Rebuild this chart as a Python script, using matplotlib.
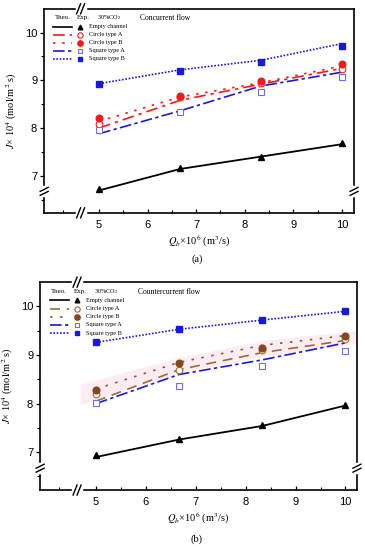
import numpy as np
import matplotlib
matplotlib.use("Agg")
import matplotlib.pyplot as plt

plt.rcParams["mathtext.fontset"] = "stix"

# flow rate Q_b x 10^6 (m^3/s)
q = [5, 6.667, 8.333, 10]

# (a) concurrent flow: experimental points
a_exp_empty = [6.71, 7.17, 7.40, 7.68]
a_exp_circA = [8.08, 8.64, 8.94, 9.24]
a_exp_circB = [8.21, 8.67, 8.98, 9.35]
a_exp_sqA = [7.95, 8.33, 8.75, 9.06]
a_exp_sqB = [8.93, 9.20, 9.38, 9.72]
# (a) theory
a_th_empty = [6.69, 7.14, 7.40, 7.66]
a_th_circA = [8.00, 8.58, 8.92, 9.25]
a_th_circB = [8.14, 8.65, 8.95, 9.30]
a_th_sqA = [7.88, 8.36, 8.88, 9.17]
a_th_sqB = [8.93, 9.22, 9.42, 9.77]

# (b) countercurrent flow: experimental points
b_exp_empty = [6.95, 7.28, 7.56, 7.98]
b_exp_circA = [8.20, 8.70, 9.10, 9.33]
b_exp_circB = [8.27, 8.83, 9.15, 9.39]
b_exp_sqA = [8.01, 8.37, 8.78, 9.08]
b_exp_sqB = [9.26, 9.53, 9.72, 9.90]
# (b) theory
b_th_empty = [6.90, 7.26, 7.54, 7.96]
b_th_circA = [8.05, 8.70, 9.05, 9.30]
b_th_circB = [8.30, 8.85, 9.20, 9.40]
b_th_sqA = [8.00, 8.60, 8.90, 9.25]
b_th_sqB = [9.26, 9.53, 9.72, 9.90]

names = ["Empty channel", "Circle type A", "Circle type B", "Square type A", "Square type B"]

RED, BLUE, BROWN, LBLUE = "#ee1c1c", "#1a1ad0", "#9b6a3a", "#6f6fe0"

fig = plt.figure(figsize=(3.65, 5.5), dpi=100)
axA = fig.add_axes([0.121, 0.613, 0.849, 0.371])
axB = fig.add_axes([0.110, 0.109, 0.868, 0.378])

serif = "Liberation Serif"
sans = "Liberation Sans"


def brk(ax, xa, ya, vertical):
    # "//" break mark on a spine, sizes in pixels
    w, h = ax.bbox.width, ax.bbox.height
    px, py = 1.0 / w, 1.0 / h
    kw = dict(transform=ax.transAxes, clip_on=False, zorder=10)
    if vertical:
        ax.plot([xa, xa], [ya - 4 * py, ya + 4 * py], color="white", lw=2.5, **kw)
        for k in (-2, 2):
            ax.plot([xa - 4 * px, xa + 4 * px], [ya - 2 * py + k * py, ya + 2 * py + k * py],
                    color="black", lw=1.0, **kw)
    else:
        ax.plot([xa - 4 * px, xa + 4 * px], [ya, ya], color="white", lw=2.5, **kw)
        for k in (-2, 2):
            ax.plot([xa - 2 * px + k * px, xa + 2 * px + k * px], [ya - 5 * py, ya + 5 * py],
                    color="black", lw=1.0, **kw)


def panel(ax, th, ex, styles, flow, xlim, band=None):
    (ce, ca, cb, sa, sb) = styles["colors"]
    lss = styles["ls"]
    th_cols = ["black", ca, styles["lineB"], sa, sb]
    if band is not None:
        ax.fill_between([4.68] + q[1:-1] + [10.2],
                        [v - 0.07 for v in band[0]],
                        [v + 0.1 for v in band[1]],
                        color="#fdedf2", lw=0, zorder=0)
    for y, c, ls in zip(th, th_cols, lss):
        ax.plot(q, y, color=c, ls=ls, lw=1.3 if ls == "-" else 1.2, zorder=2)
    mk = [dict(marker="^", mfc="black", mec="black", ms=4.2),
          dict(marker="o", mfc="white", mec=ca, ms=4.8, mew=0.8),
          dict(marker="o", mfc=cb, mec=cb, ms=4.8),
          dict(marker="s", mfc="white", mec=LBLUE, ms=4.4, mew=0.8),
          dict(marker="s", mfc=sb, mec=sb, ms=4.2)]
    for y, m in zip(ex, mk):
        ax.plot(q, y, ls="none", zorder=3, **m)

    ax.set_xlim(*xlim)
    ax.set_ylim(6.22, 10.5)
    ax.set_xticks([5, 6, 7, 8, 9, 10])
    ax.set_xticks([4.25, 5.5, 6.5, 7.5, 8.5, 9.5], minor=True)
    ax.set_yticks([7, 8, 9, 10])
    ax.set_yticks([6.5, 7.5, 8.5, 9.5], minor=True)
    ax.tick_params(axis="x", direction="in", length=3, width=0.9, labelsize=8, pad=5)
    ax.tick_params(axis="x", which="minor", direction="in", length=2, width=0.8)
    ax.tick_params(axis="y", direction="out", length=3, width=0.9, labelsize=8, pad=2)
    ax.tick_params(axis="y", which="minor", direction="out", length=2, width=0.8)
    for lab in ax.get_xticklabels() + ax.get_yticklabels():
        lab.set_family(sans)
    for s in ax.spines.values():
        s.set_linewidth(1.2)
    ax.set_xlabel(r"$Q_b$×10$^6$ (m$^3$/s)", family=serif, fontsize=7.5, labelpad=3)
    ax.set_ylabel(r"$J$× 10$^4$ (mol/m$^2$ s)", family=serif, fontsize=7.5, labelpad=4)

    xb = (4.62 - xlim[0]) / (xlim[1] - xlim[0])
    yb = (6.67 - 6.22) / (10.5 - 6.22)
    brk(ax, xb, 0, False)
    brk(ax, xb, 1, False)
    brk(ax, 0, yb, True)
    brk(ax, 1, yb, True)

    # hand-made legend
    t = ax.transAxes
    ax.text(0.035, 0.955, "Theo.", transform=t, family=serif, fontsize=5, va="center")
    ax.text(0.105, 0.955, "Exp.", transform=t, family=serif, fontsize=5, va="center")
    ax.text(0.17, 0.955, r"30%CO$_2$", transform=t, family=serif, fontsize=4.5, va="center")
    ax.text(0.31, 0.955, flow, transform=t, family=serif, fontsize=5.5, va="center")
    rows = [0.912, 0.873, 0.833, 0.794, 0.755]
    for r, c, ls, m, nm in zip(rows, th_cols, lss, mk, names):
        ax.plot([0.03, 0.09], [r, r], color=c, ls=ls, lw=1.2, transform=t)
        mm = dict(m)
        mm["ms"] = mm["ms"] * 0.8
        ax.plot([0.115], [r], ls="none", transform=t, **mm)
        ax.text(0.145, r, nm, transform=t, family=serif, fontsize=4.5, va="center")


styA = dict(colors=("black", RED, RED, BLUE, BLUE), lineB=RED,
            ls=["-", (0, (7, 3, 2, 3)), (0, (1.5, 4)), (0, (7, 2, 2, 2)), (0, (1, 1))])
styB = dict(colors=("black", BROWN, "#84471f", BLUE, BLUE), lineB="#8a5a2e",
            ls=["-", (0, (6, 4)), (0, (1.5, 4.5)), (0, (7, 2, 2, 2)), (0, (1, 1))])

panel(axA, [a_th_empty, a_th_circA, a_th_circB, a_th_sqA, a_th_sqB],
      [a_exp_empty, a_exp_circA, a_exp_circB, a_exp_sqA, a_exp_sqB],
      styA, "Concurrent flow", (3.87, 10.25))
panel(axB, [b_th_empty, b_th_circA, b_th_circB, b_th_sqA, b_th_sqB],
      [b_exp_empty, b_exp_circA, b_exp_circB, b_exp_sqA, b_exp_sqB],
      styB, "Countercurrent flow", (3.88, 10.23), band=(b_th_circA, b_th_circB))

fig.text(0.541, 1 - 259 / 550, "(a)", family=serif, fontsize=7.5, ha="center", va="center")
fig.text(0.537, 1 - 539 / 550, "(b)", family=serif, fontsize=7.5, ha="center", va="center")

fig.savefig("out.png", dpi=100)
